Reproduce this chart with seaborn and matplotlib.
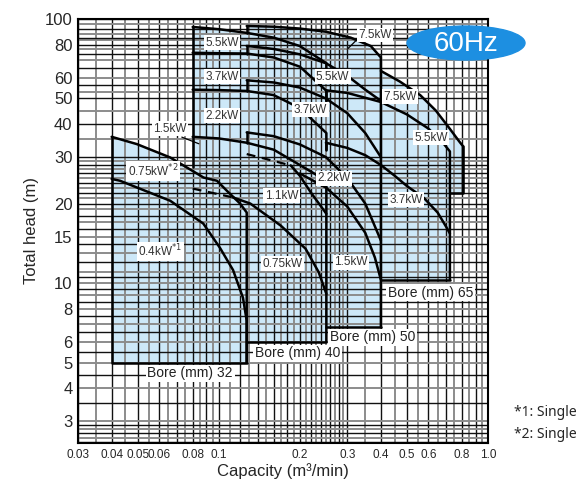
import matplotlib
matplotlib.use("Agg")
import matplotlib.pyplot as plt
from matplotlib.patches import Ellipse
import seaborn as sns
import pandas as pd

sns.set_theme(style="white")
plt.rcParams['font.family'] = ['Liberation Sans', 'DejaVu Sans']

# axis ticks
x_ticks = [0.03, 0.04, 0.05, 0.06, 0.08, 0.1, 0.2, 0.3, 0.4, 0.5, 0.6, 0.8, 1.0]
x_tick_labels = ["0.03", "0.04", "0.05", "0.06", "0.08", "0.1", "0.2", "0.3", "0.4", "0.5", "0.6", "0.8", "1.0"]
y_ticks = [3, 4, 5, 6, 8, 10, 15, 20, 30, 40, 50, 60, 80, 100]

# log-paper rulings
x_rules = [0.03, 0.035, 0.04, 0.045, 0.05, 0.055, 0.06, 0.065, 0.07, 0.075, 0.08, 0.085, 0.09, 0.095,
           0.1, 0.11, 0.12, 0.13, 0.14, 0.15, 0.16, 0.17, 0.18, 0.19, 0.2, 0.21, 0.22, 0.23, 0.24,
           0.25, 0.26, 0.27, 0.28, 0.29, 0.3, 0.35, 0.4, 0.45, 0.5, 0.55, 0.6, 0.65, 0.7, 0.75,
           0.8, 0.85, 0.9, 0.95, 1.0]
y_rules = [2.5, 2.6, 2.7, 2.8, 2.9, 3, 3.5, 4, 4.5, 5, 5.5, 6, 6.5, 7, 7.5, 8, 8.5, 9, 9.5, 10,
           10.5, 11, 12, 13, 14, 15, 16, 17, 18, 19, 20, 21, 22, 23, 24, 25, 26, 27, 28, 29, 30,
           35, 40, 45, 50, 53, 56, 60, 65, 70, 74, 77, 80, 83, 85, 88, 92, 96, 100]

# ---- performance curves: capacity (m3/min) and total head (m) ----
# bore 32
q_32_04 = [0.040, 0.043, 0.066, 0.0876, 0.101, 0.113, 0.123, 0.127]
h_32_04 = [24.8, 24.4, 20.5, 16.8, 13.6, 11.2, 8.8, 7.2]
q_32_075 = [0.040, 0.0496, 0.066, 0.0878, 0.0985, 0.107, 0.120, 0.127]
h_32_075 = [35.8, 33.6, 29.9, 25.1, 24.4, 22.4, 20.0, 18.5]

# bore 40
q_40_075d = [0.080, 0.113]
h_40_075d = [22.8, 21.1]
q_40_075 = [0.113, 0.131, 0.17, 0.21, 0.235, 0.251]
h_40_075 = [21.1, 20.0, 16.5, 13.5, 11.0, 9.1]
q_40_11d = [0.127, 0.15, 0.185]
h_40_11d = [30.8, 29.5, 27.9]
q_40_11 = [0.185, 0.20, 0.22, 0.251]
h_40_11 = [27.9, 25.5, 22.0, 18.3]
q_40_15 = [0.080, 0.10, 0.127, 0.16, 0.2, 0.251]
h_40_15 = [35.8, 35.3, 34.0, 32.0, 28.0, 24.4]
q_40_22 = [0.080, 0.10, 0.127, 0.16, 0.2, 0.251]
h_40_22 = [54.0, 53.8, 53.4, 51.5, 46.0, 37.0]
q_40_37 = [0.080, 0.10, 0.127, 0.16, 0.2, 0.251]
h_40_37 = [74.5, 74.2, 74.0, 71.5, 66.0, 53.5]
q_40_55 = [0.080, 0.10, 0.127, 0.16, 0.2, 0.251]
h_40_55 = [93.3, 91.5, 88.6, 85.0, 79.0, 68.0]

# bore 50
q_50_15 = [0.20, 0.25, 0.30, 0.35, 0.38, 0.40]
h_50_15 = [26.0, 23.0, 19.5, 15.5, 12.5, 10.3]
q_50_22 = [0.127, 0.16, 0.2, 0.25, 0.3, 0.35, 0.40]
h_50_22 = [37.2, 36.0, 33.5, 30.0, 25.0, 20.0, 14.5]
q_50_37 = [0.127, 0.16, 0.2, 0.25, 0.3, 0.35, 0.40]
h_50_37 = [58.6, 57.5, 55.0, 50.0, 44.0, 37.0, 30.0]
q_50_55 = [0.127, 0.16, 0.2, 0.25, 0.3, 0.35, 0.40]
h_50_55 = [79.1, 77.0, 73.5, 68.0, 61.0, 54.0, 49.0]
q_50_75 = [0.127, 0.16, 0.2, 0.25, 0.309, 0.367, 0.40]
h_50_75 = [94.1, 93.5, 92.0, 89.5, 85.0, 79.0, 71.5]

# bore 65
q_65_37 = [0.25, 0.3, 0.35, 0.4, 0.45, 0.5, 0.578, 0.65, 0.7, 0.722]
h_65_37 = [34.0, 32.5, 30.5, 28.0, 25.5, 23.3, 21.0, 18.5, 16.3, 15.4]
q_65_55 = [0.25, 0.3, 0.4, 0.5, 0.6, 0.68, 0.722]
h_65_55 = [53.7, 52.5, 48.5, 43.5, 38.5, 34.0, 31.5]
q_65_75 = [0.40, 0.47, 0.56, 0.64, 0.72, 0.78, 0.807]
h_65_75 = [63.6, 58.0, 51.5, 45.0, 38.5, 34.5, 33.0]

# each curve: capacities, heads, head where its vertical end stops
curves = [
    (q_32_04, h_32_04, 5.0), (q_32_075, h_32_075, 5.0),
    (q_40_075, h_40_075, 6.0), (q_40_11, h_40_11, 9.1), (q_40_15, h_40_15, 18.3),
    (q_40_22, h_40_22, 32.0), (q_40_37, h_40_37, 49.0), (q_40_55, h_40_55, 63.0),
    (q_50_15, h_50_15, 6.8), (q_50_22, h_50_22, 10.3), (q_50_37, h_50_37, 14.5),
    (q_50_55, h_50_55, 30.0), (q_50_75, h_50_75, 49.0),
    (q_65_37, h_65_37, 10.3), (q_65_55, h_65_55, 15.4), (q_65_75, h_65_75, 22.0),
]

# kW labels: text, capacity, head
kw_text = ["0.4kW$^{*1}$", "0.75kW$^{*2}$", "0.75kW", "1.1kW", "1.5kW", "2.2kW", "3.7kW", "5.5kW",
           "1.5kW", "2.2kW", "3.7kW", "5.5kW", "7.5kW", "3.7kW", "5.5kW", "7.5kW"]
kw_q = [0.0606, 0.057, 0.1727, 0.171, 0.066, 0.103, 0.103, 0.103,
        0.309, 0.267, 0.219, 0.265, 0.380, 0.495, 0.613, 0.470]
kw_h = [13.2, 26.6, 11.86, 21.4, 38.4, 43.0, 60.4, 81.2,
        11.97, 24.9, 45.3, 60.4, 87.0, 20.7, 35.5, 50.7]

# bore regions: left / right capacity, lowest head
bore_names = ["32", "40", "50", "65"]
bore_q_left = [0.04, 0.08, 0.127, 0.25]
bore_q_right = [0.127, 0.251, 0.40, 0.722]
bore_h_low = [5.0, 6.0, 6.8, 10.3]
bore_label_q = [0.0783, 0.196, 0.373, 0.613]
bore_label_h = [4.55, 5.42, 6.23, 9.21]

fig = plt.figure(figsize=(5.85, 4.82), dpi=100)
ax = fig.add_axes([78/585, 1-443/482, 410/585, 424/482])
ax.set_xscale("log")
ax.set_yscale("log")
ax.set_xlim(0.03, 1.0)
ax.set_ylim(2.48, 100)

fill_c = "#cde8f8"
tops = [(q_32_075, h_32_075), (q_40_55, h_40_55), (q_50_75, h_50_75), (q_65_55, h_65_55)]
for i, (tq, th) in enumerate(tops):
    pq = [bore_q_left[i]] + tq + [bore_q_right[i]]
    ph = [bore_h_low[i]] + th + [bore_h_low[i]]
    ax.fill(pq, ph, color=fill_c, zorder=1, lw=0)
ax.fill([0.25] + q_50_55[3:] + q_65_75 + [0.807, 0.722, 0.722],
        [10.3] + h_50_55[3:] + h_65_75 + [22.0, 22.0, 10.3], color=fill_c, zorder=1, lw=0)

for i, xv in enumerate(x_rules):
    ax.axvline(xv, color="#111111" if i % 2 == 0 else "#8c8c8c", lw=1.0 if i % 2 == 0 else 1.4, zorder=2)
for i, yv in enumerate(y_rules):
    ax.axhline(yv, color="#111111" if i % 2 == 0 else "#8c8c8c", lw=1.0 if i % 2 == 0 else 1.4, zorder=2)

lw = 1.8
# visible edges of the bore regions
ax.plot([0.04, 0.04, 0.127], [35.8, 5.0, 5.0], color="black", lw=lw, zorder=4)
ax.plot([0.127, 0.251], [6.0, 6.0], color="black", lw=lw, zorder=4)
ax.plot([0.251, 0.40], [6.8, 6.8], color="black", lw=lw, zorder=4)
ax.plot([0.40, 0.722], [10.3, 10.3], color="black", lw=lw, zorder=4)
ax.plot([0.08, 0.08], [27.5, 93.3], color="black", lw=lw, zorder=4)
ax.plot([0.807, 0.807, 0.722], [33.0, 22.0, 22.0], color="black", lw=lw, zorder=4)
# short steps where a higher-output curve begins
ax.plot([0.127, 0.127], [88.6, 94.1], color="black", lw=lw, zorder=4)
ax.plot([0.127, 0.127], [74.0, 79.1], color="black", lw=lw, zorder=4)
ax.plot([0.127, 0.127], [53.4, 58.6], color="black", lw=lw, zorder=4)
ax.plot([0.127, 0.127], [34.0, 37.2], color="black", lw=lw, zorder=4)
ax.plot([0.25, 0.25], [49.0, 53.7], color="black", lw=lw, zorder=4)
ax.plot([0.25, 0.25], [32.0, 34.0], color="black", lw=lw, zorder=4)

for q, h, stop in curves:
    df = pd.DataFrame({"q": q + [q[-1]], "h": h + [stop]})
    sns.lineplot(data=df, x="q", y="h", sort=False, estimator=None, color="black", lw=lw,
                 ax=ax, zorder=4)
dash = (0, (4, 3))
ax.plot(q_40_075d, h_40_075d, color="black", lw=1.6, ls=dash, zorder=4)
ax.plot(q_40_11d, h_40_11d, color="black", lw=1.6, ls=dash, zorder=4)
# leaders for the 1.5 kW and the upper 7.5 kW labels
ax.plot([0.0729, 0.0843], [35.7, 33.7], color="black", lw=0.9, zorder=5)
ax.plot([0.327, 0.300], [83.8, 76.8], color="black", lw=0.9, zorder=5)

box = dict(boxstyle="square,pad=0.12", fc="white", ec="none")
for t, q, h in zip(kw_text, kw_q, kw_h):
    ax.text(q, h, t, fontsize=8.5, ha="center", va="center", color="#333333", bbox=box, zorder=6)
for n, q, h in zip(bore_names, bore_label_q, bore_label_h):
    ax.text(q, h, f"Bore (mm) {n}", fontsize=10, ha="center", va="center", color="#222222",
            bbox=box, zorder=6)

ax.set_xticks(x_ticks)
ax.set_xticklabels(x_tick_labels, fontsize=8.5)
ax.set_yticks(y_ticks)
ax.set_yticklabels([str(v) for v in y_ticks], fontsize=12)
ax.minorticks_off()
ax.tick_params(length=0, pad=4)
ax.set_xlabel("Capacity (m³/min)", fontsize=12, labelpad=2)
ax.set_ylabel("Total head (m)", fontsize=12, labelpad=4)
for s in ax.spines.values():
    s.set_color("black")
    s.set_linewidth(1.5)

ell = Ellipse((466/585, 1-43/482), 118/585, 34/482, transform=fig.transFigure,
              color="#1d8fe1", zorder=10)
fig.patches.append(ell)
fig.text(466/585, 1-44/482, "60Hz", color="white", fontsize=20, ha="center", va="center", zorder=11)
fig.text(514/585, 1-412/482, "*1: Single", fontsize=10, ha="left", va="center",
         family=["Noto Sans", "DejaVu Sans"])
fig.text(514/585, 1-434/482, "*2: Single", fontsize=10, ha="left", va="center",
         family=["Noto Sans", "DejaVu Sans"])

fig.savefig("out.png", dpi=100)
